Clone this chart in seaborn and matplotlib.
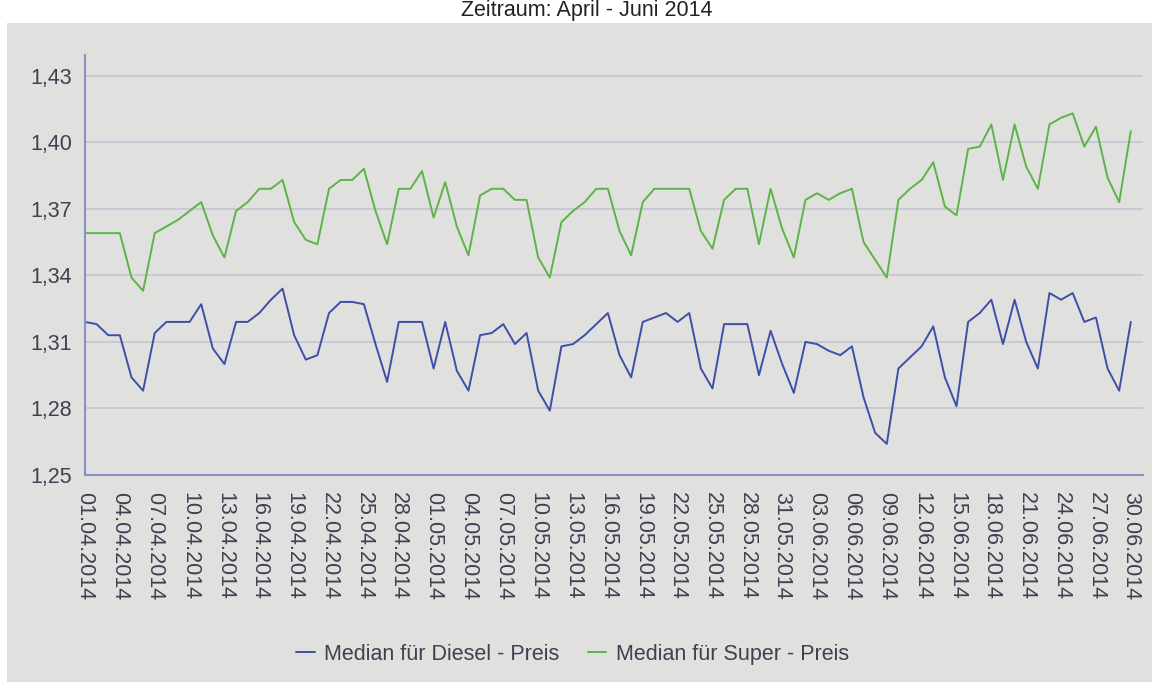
import pandas as pd
import seaborn as sns
import matplotlib.pyplot as plt
from matplotlib.patches import Rectangle
from matplotlib.ticker import FuncFormatter

# Tageswerte 01.04.2014 - 30.06.2014 (Median, Euro pro Liter)
dates = pd.date_range('2014-04-01', '2014-06-30', freq='D')

diesel = [
    1.319, 1.318, 1.313, 1.313, 1.294, 1.288, 1.314, 1.319, 1.319, 1.319,
    1.327, 1.307, 1.300, 1.319, 1.319, 1.323, 1.329, 1.334, 1.313, 1.302,
    1.304, 1.323, 1.328, 1.328, 1.327, 1.309, 1.292, 1.319, 1.319, 1.319,
    1.298, 1.319, 1.297, 1.288, 1.313, 1.314, 1.318, 1.309, 1.314, 1.288,
    1.279, 1.308, 1.309, 1.313, 1.318, 1.323, 1.304, 1.294, 1.319, 1.321,
    1.323, 1.319, 1.323, 1.298, 1.289, 1.318, 1.318, 1.318, 1.295, 1.315,
    1.300, 1.287, 1.310, 1.309, 1.306, 1.304, 1.308, 1.285, 1.269, 1.264,
    1.298, 1.303, 1.308, 1.317, 1.294, 1.281, 1.319, 1.323, 1.329, 1.309,
    1.329, 1.310, 1.298, 1.332, 1.329, 1.332, 1.319, 1.321, 1.298, 1.288,
    1.319,
]

super_e = [
    1.359, 1.359, 1.359, 1.359, 1.339, 1.333, 1.359, 1.362, 1.365, 1.369,
    1.373, 1.358, 1.348, 1.369, 1.373, 1.379, 1.379, 1.383, 1.364, 1.356,
    1.354, 1.379, 1.383, 1.383, 1.388, 1.369, 1.354, 1.379, 1.379, 1.387,
    1.366, 1.382, 1.362, 1.349, 1.376, 1.379, 1.379, 1.374, 1.374, 1.348,
    1.339, 1.364, 1.369, 1.373, 1.379, 1.379, 1.360, 1.349, 1.373, 1.379,
    1.379, 1.379, 1.379, 1.360, 1.352, 1.374, 1.379, 1.379, 1.354, 1.379,
    1.361, 1.348, 1.374, 1.377, 1.374, 1.377, 1.379, 1.355, 1.347, 1.339,
    1.374, 1.379, 1.383, 1.391, 1.371, 1.367, 1.397, 1.398, 1.408, 1.383,
    1.408, 1.389, 1.379, 1.408, 1.411, 1.413, 1.398, 1.407, 1.384, 1.373,
    1.405,
]

series_names = ['Median für Diesel - Preis', 'Median für Super - Preis']
y_ticks = [1.25, 1.28, 1.31, 1.34, 1.37, 1.40, 1.43]
title = 'Zeitraum: April - Juni 2014'

panel = '#e0e0de'
text_col = '#404052'


def build_df() -> pd.DataFrame:
    """Long format for seaborn."""
    d = pd.DataFrame({'Datum': dates, 'Preis': diesel, 'Sorte': series_names[0]})
    s = pd.DataFrame({'Datum': dates, 'Preis': super_e, 'Sorte': series_names[1]})
    return pd.concat([d, s], ignore_index=True)


def lineplot(df: pd.DataFrame):
    sns.set_style('white')
    plt.rcParams['font.family'] = ['Liberation Sans', 'DejaVu Sans']
    plt.rcParams['font.size'] = 15.5

    fig = plt.figure(figsize=(11.52, 6.82), dpi=100, facecolor='white')
    # grauer Hintergrund wie im Original
    fig.patches.append(Rectangle((7 / 1152, 0), 1, 1 - 23 / 682, transform=fig.transFigure,
                                 facecolor=panel, edgecolor='none', zorder=-5))
    fig.text(0.509, 1 - 16 / 682, title, ha='center', va='baseline',
             fontsize=15.5, color='#222222')

    ax = fig.add_axes([85 / 1152, 1 - 475 / 682, (1143 - 85) / 1152, (475 - 55) / 682])
    ax.set_facecolor(panel)

    palette = {series_names[0]: '#3d4fa6', series_names[1]: '#5cb447'}
    sns.lineplot(data=df, x='Datum', y='Preis', hue='Sorte', palette=palette,
                 linewidth=1.4, ax=ax)

    ax.set_ylim(1.25, 1.4393)
    ax.set_xlim(dates[0], dates[0] + pd.Timedelta(days=91.05))
    ax.set_yticks(y_ticks)
    ax.yaxis.set_major_formatter(FuncFormatter(lambda v, p: f'{v:.2f}'.replace('.', ',')))
    ax.set_xticks(dates[::3])
    ax.set_xticklabels([d.strftime('%d.%m.%Y') for d in dates[::3]], rotation=-90)
    ax.tick_params(axis='y', length=0, pad=9.5, labelcolor=text_col, labelsize=15.5)
    ax.tick_params(axis='x', length=0, pad=12, labelcolor=text_col, labelsize=15.5)
    ax.set_xlabel('')
    ax.set_ylabel('')

    ax.grid(axis='y', color='#c8c8d6', linewidth=1.4)
    ax.set_axisbelow(True)
    for side in ['top', 'right']:
        ax.spines[side].set_visible(False)
    for side in ['left', 'bottom']:
        ax.spines[side].set_color('#8a92c2')
        ax.spines[side].set_linewidth(1.5)

    handles, labels = ax.get_legend_handles_labels()
    ax.legend(handles, labels, loc='center', bbox_to_anchor=(0.497, 0.041),
              bbox_transform=fig.transFigure, ncol=2, frameon=False,
              handlelength=0.85, handletextpad=0.45, columnspacing=1.3,
              labelcolor=text_col, fontsize=15.5)

    fig.savefig('out.png', dpi=100, facecolor=fig.get_facecolor())


def main():
    lineplot(build_df())


if __name__ == "__main__":
    main()
